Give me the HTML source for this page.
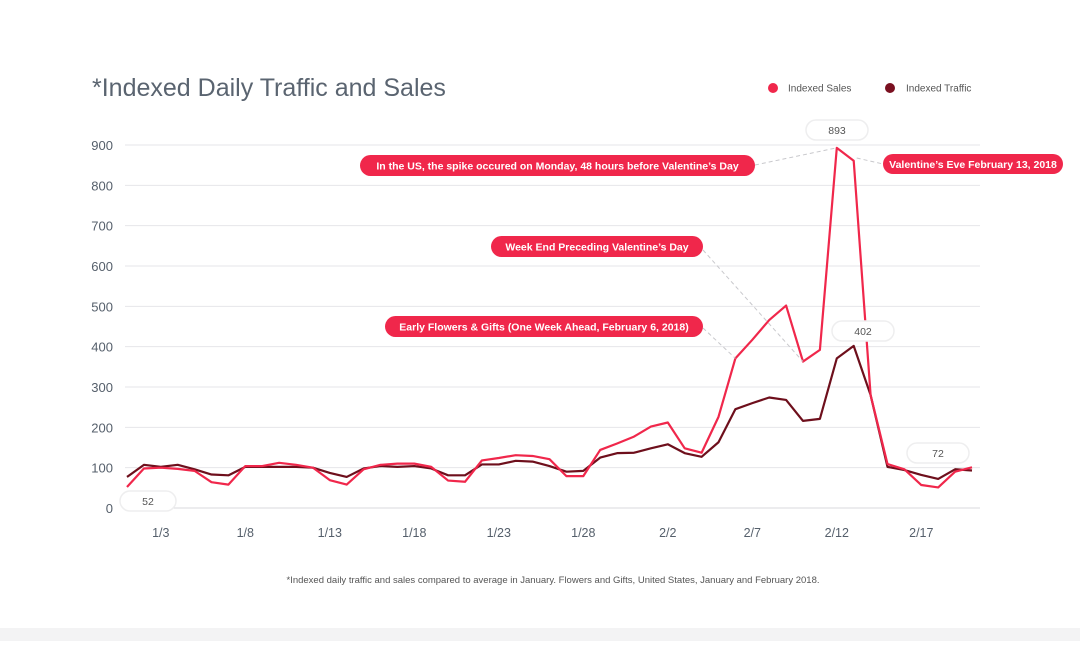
<!DOCTYPE html>
<html><head><meta charset="utf-8"><style>
html,body{margin:0;padding:0;background:#fff;}
body{width:1080px;height:641px;overflow:hidden;position:relative;font-family:"Liberation Sans",sans-serif;}
svg text{font-family:"Liberation Sans",sans-serif;}
</style></head><body>
<svg id="chart" width="1080" height="641" xmlns="http://www.w3.org/2000/svg">
<rect x="0" y="628" width="1080" height="13" fill="#f3f3f4"/>
<text x="92" y="96" font-size="25" fill="#5a6470">*Indexed Daily Traffic and Sales</text>
<g>
<circle cx="773" cy="88" r="5" fill="#f0274b"/>
<text x="788" y="91.5" font-size="10" fill="#555">Indexed Sales</text>
<circle cx="890" cy="88" r="5" fill="#7a1020"/>
<text x="906" y="91.5" font-size="10" fill="#555">Indexed Traffic</text>
</g>
<g id="grid"></g><g id="lines"></g><g id="annot"></g>
<text x="553" y="583" font-size="9.5" text-anchor="middle" fill="#555">*Indexed daily traffic and sales compared to average in January. Flowers and Gifts, United States, January and February 2018.</text>
</svg>
<script>
const yTicks=[0,100,200,300,400,500,600,700,800,900];
const xTickLabels=["1/3","1/8","1/13","1/18","1/23","1/28","2/2","2/7","2/12","2/17"];
const xTickDays=[2,7,12,17,22,27,32,37,42,47];
const sales=[52,98,100,97,92,64,58,104,104,112,107,100,69,58,96,107,110,110,102,68,65,118,124,131,129,121,79,79,144,160,177,202,212,148,137,226,371,417,466,502,363,392,893,861,280,109,96,57,51,90,101];
const traffic=[77,107,102,107,96,83,81,102,102,102,102,100,87,77,98,104,102,104,98,81,81,108,108,117,115,104,90,92,125,136,137,148,158,136,127,163,245,260,274,268,216,221,371,402,280,102,94,82,72,96,93];
const NS="http://www.w3.org/2000/svg";
const X=d=>127+d*16.9;
const Y=v=>508-v*(363/900);
function mk(tag,attrs,parent){const e=document.createElementNS(NS,tag);for(const k in attrs)e.setAttribute(k,attrs[k]);parent.appendChild(e);return e;}
const grid=document.getElementById('grid');
yTicks.forEach(t=>{
 const l=mk('line',{x1:125,x2:980,y1:Y(t),y2:Y(t),stroke:t===0?'#d8d8dc':'#e6e6ea','stroke-width':1},grid);
 
 
 const tx=mk('text',{x:113,y:Y(t)+5,'font-size':13,'text-anchor':'end',fill:'#555f6b'},grid);
 tx.textContent=t;
 
 
});
xTickLabels.forEach((s,i)=>{
 const tx=mk('text',{x:X(xTickDays[i]),y:537,'font-size':12.5,'text-anchor':'middle',fill:'#555f6b'},grid);
 tx.textContent=s;
 
 
});
const lines=document.getElementById('lines');
function series(arr,color,name){
 const p=mk('polyline',{points:arr.map((v,i)=>X(i)+','+Y(v)).join(' '),fill:'none',stroke:color,'stroke-width':2.2,'stroke-linejoin':'round'},lines);
 
 
}
series(traffic,'#6e0f1c','traffic-line');
series(sales,'#f0274b','sales-line');
const an=document.getElementById('annot');
function dash(x1,y1,x2,y2,n){const l=mk('line',{x1,y1,x2,y2,stroke:'#c8c8cc','stroke-dasharray':'4,3','stroke-width':1},an);
 
 }
dash(755,165,X(42),Y(sales[42]),'connector-spike');
dash(X(43)+3,158,883,164,'connector-eve');
dash(703,250,X(40),Y(sales[40]),'connector-weekend');
dash(703,328,X(36),Y(sales[36]),'connector-early');
function pill(x,y,w,h,txt,name){
 const r=mk('rect',{x,y,width:w,height:h,rx:h/2,fill:'#f0274b'},an);
 
 
 const t=mk('text',{x:x+w/2,y:y+h/2+4,'font-size':10.5,'font-weight':'bold','text-anchor':'middle',fill:'#fff'},an);
 t.textContent=txt;
 
 
}
pill(360,155,395,21,"In the US, the spike occured on Monday, 48 hours before Valentine\u2019s Day",'annotation-spike');
pill(883,154,180,20,"Valentine\u2019s Eve February 13, 2018",'annotation-eve');
pill(491,236,212,21,"Week End Preceding Valentine\u2019s Day",'annotation-weekend');
pill(385,316,318,21,"Early Flowers & Gifts (One Week Ahead, February 6, 2018)",'annotation-early');
function vpill(x,y,w,txt,name){
 const r=mk('rect',{x,y,width:w,height:20,rx:10,fill:'#fff',stroke:'#eeeeef','stroke-width':1.5},an);
 
 
 const t=mk('text',{x:x+w/2,y:y+14,'font-size':10.5,'text-anchor':'middle',fill:'#555'},an);
 t.textContent=txt;
 
 
}
vpill(120,491,56,String(sales[0]),'value-label-start');
vpill(806,120,62,String(sales[42]),'value-label-sales-peak');
vpill(832,321,62,String(traffic[43]),'value-label-traffic-peak');
vpill(907,443,62,String(traffic[48]),'value-label-traffic-low');
</script>
</body></html>
